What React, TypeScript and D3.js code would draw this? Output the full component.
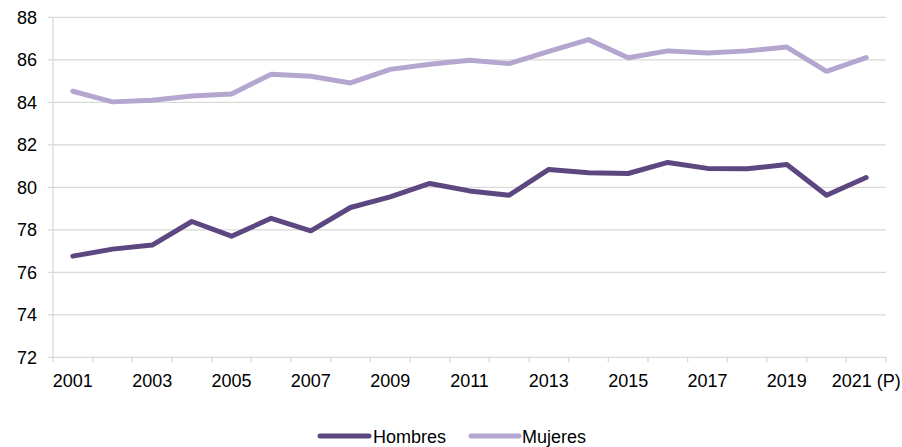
import React from "react";
import * as d3 from "d3";

const years = ["2001","2002","2003","2004","2005","2006","2007","2008","2009","2010","2011","2012","2013","2014","2015","2016","2017","2018","2019","2020","2021"];
const tickLabels = ["2001","2003","2005","2007","2009","2011","2013","2015","2017","2019","2021 (P)"];
const hombres = [76.76,77.09,77.28,78.39,77.70,78.54,77.95,79.05,79.55,80.18,79.83,79.63,80.84,80.68,80.65,81.17,80.89,80.87,81.07,79.63,80.46];
const mujeres = [84.52,84.02,84.10,84.30,84.39,85.32,85.23,84.91,85.55,85.79,85.98,85.82,86.40,86.95,86.10,86.42,86.32,86.42,86.60,85.46,86.10];
const yTicks = [72,74,76,78,80,82,84,86,88];

const W = 902, H = 447;
const left = 53, right = 886, top = 17.3, bottom = 357.3;
const FONT = "'Liberation Sans', Arial, sans-serif";
const DARK = "#5d4780";
const LIGHT = "#b4a6cf";
const GRID = "#d9d9d9";

export default function App() {
  const x = d3.scaleBand<string>().domain(years).range([left, right]).padding(0);
  const y = d3.scaleLinear().domain([72, 88]).range([bottom, top]);
  const cx = (i: number) => (x(years[i]) as number) + x.bandwidth() / 2;
  const line = d3.line<number>().x((_, i) => cx(i)).y((d) => y(d));
  const boundaries = years.map((yr) => x(yr) as number).concat([right]);

  return (
    <svg width={W} height={H} style={{ position: "absolute", left: 0, top: 0, background: "#fff" }} fontFamily={FONT}>
      {yTicks.map((t) => (
        <g key={t}>
          <line x1={48} x2={right} y1={y(t)} y2={y(t)} stroke={GRID} strokeWidth={1.3} />
          <text x={37} y={y(t)} dy="0.35em" textAnchor="end" fontSize={18} fill="#000">{t}</text>
        </g>
      ))}
      <line x1={left} x2={left} y1={top} y2={bottom} stroke={GRID} strokeWidth={1.3} />
      {boundaries.map((b, i) => (
        <line key={i} x1={b} x2={b} y1={bottom} y2={bottom + 5} stroke={GRID} strokeWidth={1.3} />
      ))}
      {tickLabels.map((lab, k) => (
        <text key={lab} x={cx(k * 2)} y={387} textAnchor="middle" fontSize={18} fill="#000">{lab}</text>
      ))}
      <path d={line(mujeres) || ""} fill="none" stroke={LIGHT} strokeWidth={5} strokeLinejoin="round" strokeLinecap="round" />
      <path d={line(hombres) || ""} fill="none" stroke={DARK} strokeWidth={5} strokeLinejoin="round" strokeLinecap="round" />
      <line x1={320} x2={369} y1={436} y2={436} stroke={DARK} strokeWidth={5} strokeLinecap="round" />
      <text x={373} y={443} fontSize={18} fill="#000">Hombres</text>
      <line x1={471} x2={519} y1={436} y2={436} stroke={LIGHT} strokeWidth={5} strokeLinecap="round" />
      <text x={522} y={443} fontSize={18} fill="#000">Mujeres</text>
    </svg>
  );
}
